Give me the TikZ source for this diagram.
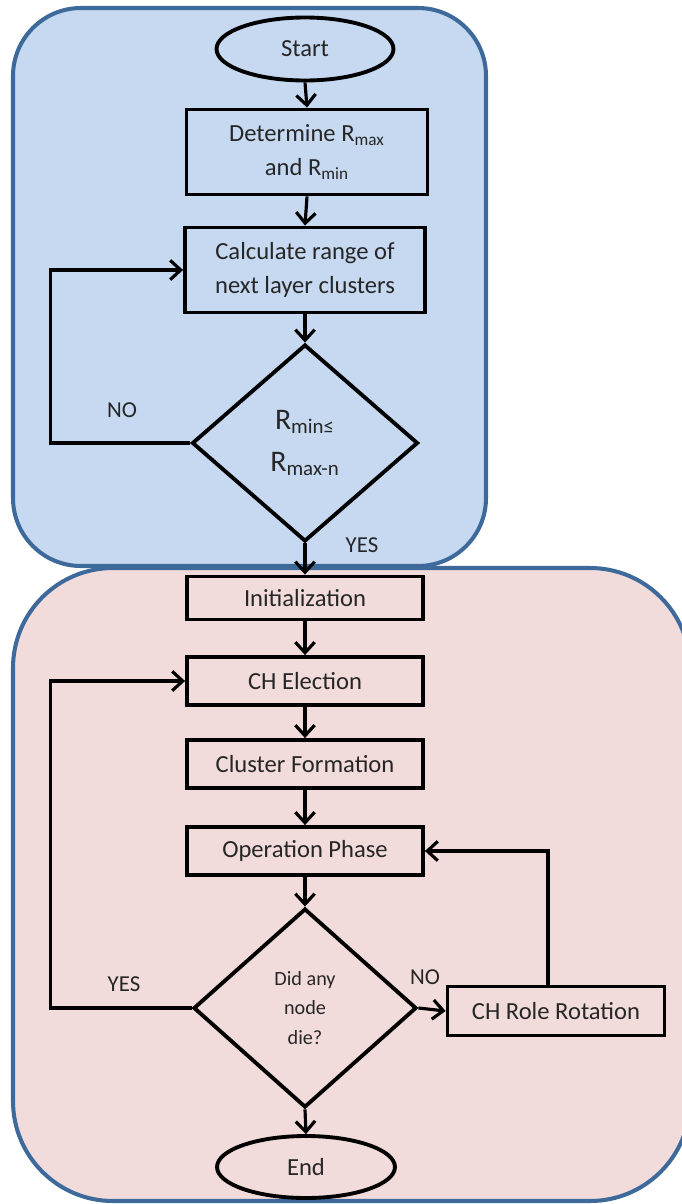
\documentclass[tikz,border=0pt]{standalone}
\usepackage{fontspec}
\setmainfont{Carlito}
\usetikzlibrary{arrows.meta,shapes.geometric}
\definecolor{bluefill}{HTML}{C6D9F1}
\definecolor{bluedraw}{HTML}{3E6A9B}
\definecolor{pinkfill}{HTML}{F2DCDB}
\definecolor{txt}{HTML}{262626}
\begin{document}
\begin{tikzpicture}[x=0.02cm,y=-0.02cm,
  region/.style={draw=bluedraw,line width=2.3pt},
  box/.style={draw,line width=2.2pt,rectangle,align=center,inner sep=0pt,text=txt,font=\fontsize{14}{19}\selectfont},
  ell/.style={draw,line width=2.2pt,ellipse,inner sep=0pt,text=txt,font=\fontsize{14}{17}\selectfont},
  dia/.style={draw,line width=2.2pt,diamond,align=center,inner sep=0pt,text=txt},
  conn/.style={line width=1.8pt,-{Straight Barb[length=6pt,width=11pt,line width=1.8pt]}},
  lab/.style={text=txt,font=\fontsize{13}{15}\selectfont}]
\useasboundingbox (0,0) rectangle (682,1204);
\draw[region,fill=bluefill,rounded corners=1.36cm] (13,8) rectangle (486,566);
\draw[region,fill=pinkfill,rounded corners=2cm] (13,568) rectangle (690,1201);

\node[ell,minimum width=3.54cm,minimum height=1.26cm] (start) at (305,49) {Start};
\node[box,minimum width=4.82cm,minimum height=1.7cm] (det) at (307,152) {Determine R\textsubscript{max}\\and R\textsubscript{min}};
\node[box,minimum width=4.8cm,minimum height=1.7cm] (calc) at (305,270) {Calculate range of\\next layer clusters};
\node[dia,minimum width=4.52cm,minimum height=3.94cm,font=\fontsize{17}{24}\selectfont] (d1) at (305,443) {R\textsubscript{min≤}\\R\textsubscript{max-n}};
\node[box,minimum width=4.72cm,minimum height=0.86cm] (init) at (305,598) {Initialization};
\node[box,minimum width=4.72cm,minimum height=0.96cm] (che) at (305,681) {CH Election};
\node[box,minimum width=4.72cm,minimum height=0.96cm] (cf) at (305,764) {Cluster Formation};
\node[box,minimum width=4.72cm,minimum height=0.96cm] (op) at (305,851) {Operation Phase};
\node[dia,minimum width=4.46cm,minimum height=3.98cm,font=\fontsize{11.5}{17}\selectfont] (d2) at (305,1008) {Did any\\node\\die?};
\node[box,minimum width=4.34cm,minimum height=0.98cm] (rot) at (556,1011) {CH Role Rotation};
\node[ell,minimum width=3.56cm,minimum height=1.24cm] (end) at (306,1167) {End};

\draw[conn] (start.south) -- (det.north);
\draw[conn] (det.south) -- (calc.north);
\draw[conn] (calc.south) -- (d1.north);
\draw[conn] (d1.west) -- ++(-140,0) |- (calc.west);
\draw[conn] (d1.south) -- (init.north);
\draw[conn] (init.south) -- (che.north);
\draw[conn] (che.south) -- (cf.north);
\draw[conn] (cf.south) -- (op.north);
\draw[conn] (op.south) -- (d2.north);
\draw[conn] (d2.west) -- ++(-141,0) |- (che.west);
\draw[conn] (d2.east) -- (rot.west);
\draw[conn] ([xshift=-0.16cm]rot.north) |- (op.east);
\draw[conn] (d2.south) -- (end.north);

\node[lab] (no1) at (122,410) {NO};
\node[lab] (yes1) at (362,545) {YES};
\node[lab] (yes2) at (124,984) {YES};
\node[lab] (no2) at (425,977) {NO};
\end{tikzpicture}
\end{document}
